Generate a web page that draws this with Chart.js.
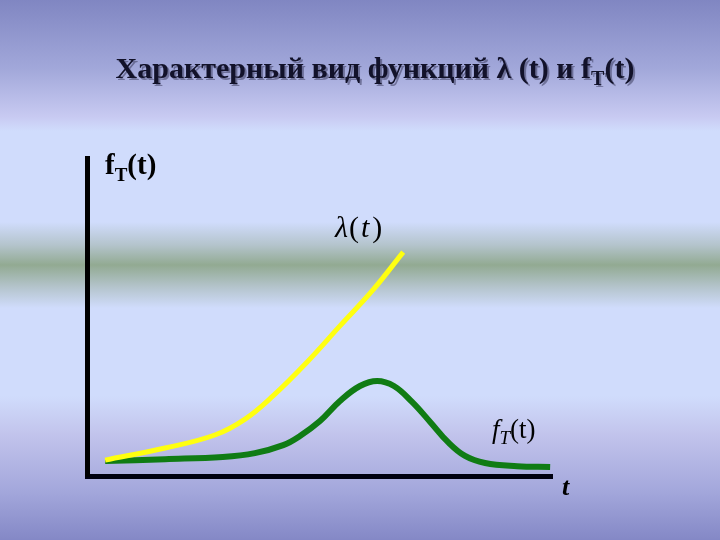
<!DOCTYPE html>
<html>
<head>
<meta charset="utf-8">
<script src="https://cdn.jsdelivr.net/npm/chart.js@4"></script>
<style>
  html, body { margin: 0; padding: 0; }
  body {
    width: 720px; height: 540px; overflow: hidden;
    background: linear-gradient(to bottom,
      #8086c2 0px, #a2a8da 69px, #c8caf2 117px, #d0dcfc 131px,
      #d0dcfc 222px, #b4c4cc 245px, #92aa92 265px, #b4c4cc 287px,
      #d0dcfc 308px, #d0dcfc 396px, #c2c4ec 434px, #a4a8dc 490px, #8488c6 540px);
  }
  #wrap { position: absolute; left: 0; top: 0; width: 720px; height: 540px; }
</style>
</head>
<body>
<div id="wrap"><canvas id="chart"></canvas></div>
<script>
// λ(t) — yellow curve
const lambdaT = [3.9, 16.8, 27.5, 34.0, 40.0, 47.3, 54.4, 61.5, 68.0];
const lambdaV = [5.0, 8.8, 12.9, 17.9, 25.2, 35.8, 47.2, 58.5, 70.4];

// fT(t) — green curve
const densT = [3.9, 16.8, 29.2, 36.1, 42.2, 45.8, 50.1, 54.4, 58.7, 62.4, 66.0, 69.9, 73.8, 77.6, 81.3, 85.6, 92.5, 99.6];
const densV = [4.7, 5.3, 6.0, 7.2, 9.7, 12.6, 17.3, 23.6, 28.3, 29.9, 28.3, 23.3, 17.0, 10.7, 6.3, 4.1, 3.1, 2.8];

const toPoints = (xs, ys) => xs.map((x, i) => ({ x: x, y: ys[i] }));

const serif = '"Liberation Serif", "DejaVu Serif", serif';

// draws text pieces in a row: [text, font, dy, gap]
function drawRun(ctx, x, y, parts) {
    let cx = x;
    parts.forEach(p => {
        ctx.font = p[1];
        ctx.fillText(p[0], cx, y + (p[2] || 0));
        cx += ctx.measureText(p[0]).width + (p[3] || 0);
    });
    return cx;
}
function runWidth(ctx, parts) {
    let w = 0;
    parts.forEach(p => { ctx.font = p[1]; w += ctx.measureText(p[0]).width + (p[3] || 0); });
    return w;
}

const labels = {
    id: 'labels',
    afterDraw(chart) {
        const ctx = chart.ctx;
        ctx.save();
        ctx.textBaseline = 'alphabetic';
        ctx.textAlign = 'left';

        // title
        const tf = 'bold 30px ' + serif;
        const ts = 'bold 20px ' + serif;
        const title = [
            ['Характерный вид функций λ (t) и f', tf],
            ['T', ts, 7],
            ['(t)', tf]
        ];
        const tw = runWidth(ctx, title);
        ctx.shadowColor = 'rgba(40,40,70,0.45)';
        ctx.shadowOffsetX = 2;
        ctx.shadowOffsetY = 2;
        ctx.fillStyle = '#12122a';
        drawRun(ctx, 375 - tw / 2, 78, title);
        ctx.shadowColor = 'transparent';

        // axis label top-left
        ctx.fillStyle = '#000';
        drawRun(ctx, 105, 174, [
            ['f', 'bold 29px ' + serif],
            ['T', 'bold 19px ' + serif, 7],
            ['(t)', 'bold 29px ' + serif]
        ]);

        // λ(t)
        drawRun(ctx, 335, 237, [
            ['λ', 'italic 30px ' + serif, 0, 1],
            ['(', '30px ' + serif, 0, 2],
            ['t', 'italic 30px ' + serif, 0, 3],
            [')', '30px ' + serif]
        ]);

        // fT(t) near curve
        drawRun(ctx, 492, 438, [
            ['f', 'italic 27px ' + serif],
            ['T', 'italic 19px ' + serif, 6],
            ['(t)', '27px ' + serif]
        ]);

        // t axis label
        ctx.font = 'bold italic 26px ' + serif;
        ctx.fillText('t', 562, 495);
        ctx.restore();
    }
};

new Chart(document.getElementById('chart'), {
    type: 'line',
    data: {
        datasets: [
            {
                label: 'λ(t)',
                data: toPoints(lambdaT, lambdaV),
                borderColor: '#ffff10',
                borderWidth: 5,
                pointRadius: 0,
                tension: 0.4,
                fill: false,
                clip: false
            },
            {
                label: 'fT(t)',
                data: toPoints(densT, densV),
                borderColor: '#107c14',
                borderWidth: 6,
                pointRadius: 0,
                tension: 0.4,
                fill: false,
                clip: false
            }
        ]
    },
    options: {
        responsive: true,
        maintainAspectRatio: false,
        animation: false,
        layout: { padding: { left: 87, top: 158, right: 168, bottom: 64 } },
        scales: {
            x: {
                type: 'linear', min: 0, max: 100,
                ticks: { display: false },
                grid: { display: false, drawTicks: false },
                border: { display: true, color: '#000010', width: 5 }
            },
            y: {
                min: 0, max: 100,
                ticks: { display: false },
                grid: { display: false, drawTicks: false },
                border: { display: true, color: '#000', width: 5 }
            }
        },
        plugins: {
            legend: { display: false },
            tooltip: { enabled: false }
        }
    },
    plugins: [labels]
});
</script>
</body>
</html>
